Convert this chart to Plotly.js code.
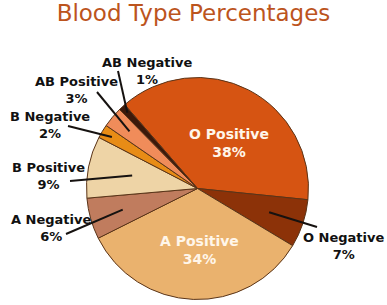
<!DOCTYPE html>
<html>
<head>
<meta charset="utf-8">
<script src="https://cdn.plot.ly/plotly-3.0.1.min.js"></script>
<style>html,body{margin:0;padding:0;background:#fff;}#chart{width:387px;height:305px;}</style>
</head>
<body>
<div id="chart"></div>
<script>
// ---- data ----
const labels = ['O Positive', 'O Negative', 'A Positive', 'A Negative', 'B Positive', 'B Negative', 'AB Positive', 'AB Negative'];
const values = [38, 7, 34, 6, 9, 2, 3, 1];
const titleText = 'Blood Type Percentages';

// ---- style ----
const colors = ['#d65412', '#8c3208', '#eab26e', '#c07c5e', '#eed4a6', '#e88c16', '#f08c5a', '#3c190a'];
const W = 387, H = 305;
const cx = 197.5, cy = 188.5, R = 111;
const rotation = -41;
// label placement (pixel centres), inside flag, leader line outer end, and radial fraction for inner end
const labelPos = [[229, 143], [343, 246], [200, 250], [51, 228], [48, 176], [50, 125], [76, 90], [147, 71]];
const inside = [true, false, true, false, false, false, false, false];
const lineOuter = [null, [317, 227], null, [66, 234], [70, 181], [68, 126], [97, 92], [118, 71]];
const lineFrac = [0, 0.68, 0, 0.7, 0.6, 0.9, 0.8, 0.93];

const px2x = p => p / W;
const py2y = p => 1 - p / H;

const total = values.reduce((a, b) => a + b, 0);
let start = rotation;
const annotations = [];
const shapes = [];
labels.forEach((lab, i) => {
  const span = values[i] / total * 360;
  const mid = (start + span / 2) * Math.PI / 180;
  start += span;
  const [tx, ty] = labelPos[i];
  annotations.push({
    text: lab + '<br>' + values[i] + '%',
    x: px2x(tx), y: py2y(ty), xref: 'paper', yref: 'paper',
    xanchor: 'center', yanchor: 'middle', showarrow: false, align: 'center',
    font: inside[i]
      ? {family: 'DejaVu Sans', size: 14, color: '#fff6ea', weight: 'bold'}
      : {family: 'DejaVu Sans', size: 13, color: '#111', weight: 'bold'}
  });
  if (lineOuter[i]) {
    const ix = cx + R * lineFrac[i] * Math.sin(mid);
    const iy = cy - R * lineFrac[i] * Math.cos(mid);
    shapes.push({
      type: 'line', xref: 'paper', yref: 'paper',
      x0: px2x(lineOuter[i][0]), y0: py2y(lineOuter[i][1]),
      x1: px2x(ix), y1: py2y(iy),
      line: {color: '#161210', width: 2}
    });
  }
});

const trace = {
  type: 'pie',
  labels: labels,
  values: values,
  sort: false,
  direction: 'clockwise',
  rotation: rotation,
  textinfo: 'none',
  hoverinfo: 'label+percent',
  marker: {colors: colors, line: {color: '#5a3418', width: 1}},
  domain: {x: [(cx - R) / W, (cx + R) / W], y: [1 - (cy + R) / H, 1 - (cy - R) / H]},
  showlegend: false
};

const layout = {
  width: W, height: H,
  margin: {l: 0, r: 0, t: 0, b: 0},
  paper_bgcolor: '#ffffff',
  plot_bgcolor: '#ffffff',
  showlegend: false,
  title: {
    text: titleText,
    x: 0.5, xanchor: 'center',
    y: 1 - 13 / H, yref: 'container', yanchor: 'middle',
    font: {family: 'DejaVu Sans', size: 23, color: '#bc541d'}
  },
  annotations: annotations,
  shapes: shapes
};

Plotly.newPlot('chart', [trace], layout, {displayModeBar: false, staticPlot: true});
</script>
</body>
</html>
